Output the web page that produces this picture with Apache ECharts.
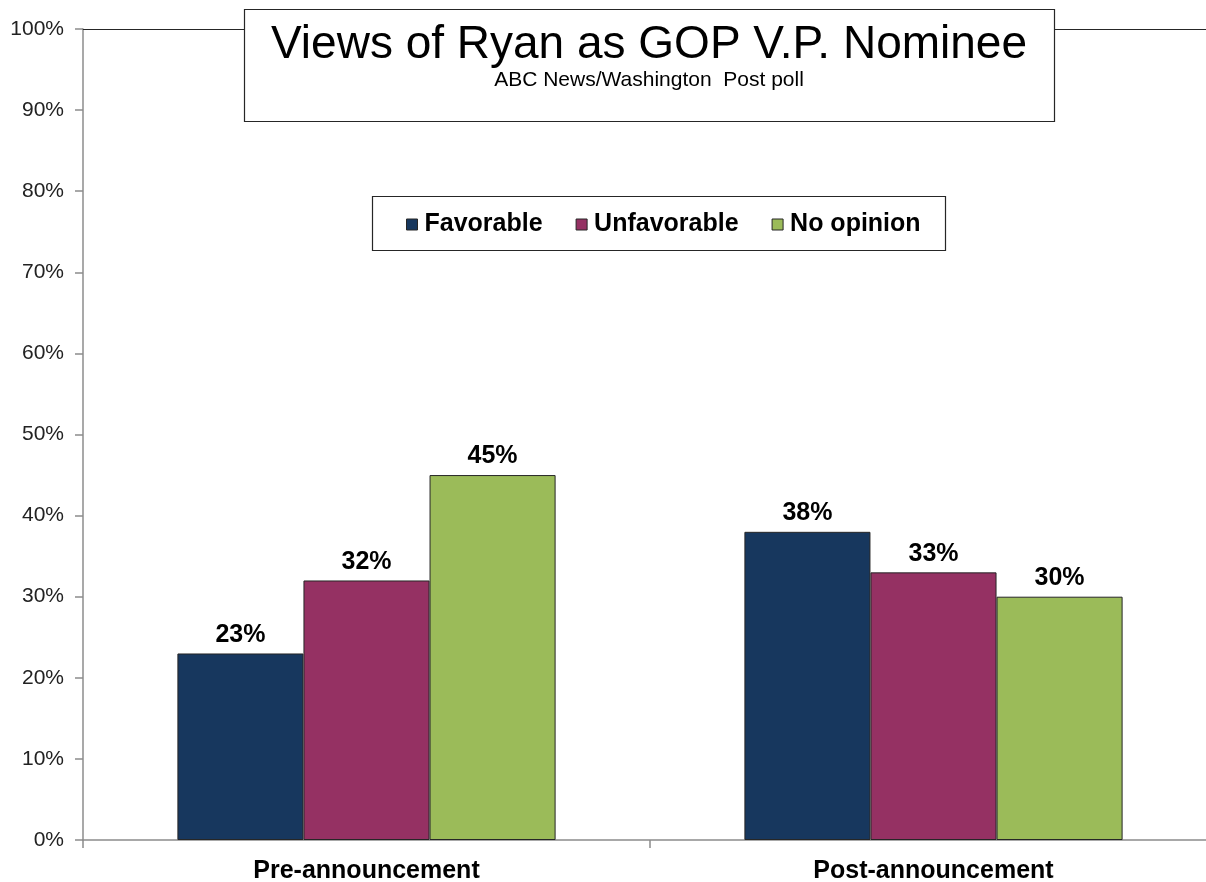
<!DOCTYPE html>
<html>
<head>
<meta charset="utf-8">
<title>Views of Ryan as GOP V.P. Nominee</title>
<script src="https://cdn.jsdelivr.net/npm/echarts@6/dist/echarts.min.js"></script>
<style>
  html, body { margin: 0; padding: 0; background: #fff; overflow: hidden; }
  #chart { width: 1217px; height: 882px; }
</style>
</head>
<body>
<div id="chart"></div>
<script>
const categories = ['Pre-announcement', 'Post-announcement']
const seriesNames = ['Favorable', 'Unfavorable', 'No opinion']
const favorable = [23, 38]
const unfavorable = [32, 33]
const noOpinion = [45, 30]
const yTicks = [0, 10, 20, 30, 40, 50, 60, 70, 80, 90, 100]

const colors = ['#17375e', '#953163', '#9bbb59']
const font = 'Arial, "Liberation Sans", sans-serif'

const chart = echarts.init(document.getElementById('chart'))

function barSeries(name, data, color) {
  return {
    name: name,
    type: 'bar',
    data: data,
    barGap: '0%',
    barCategoryGap: '33.3%',
    itemStyle: { color: color, borderColor: '#262626', borderWidth: 1 },
    label: {
      show: true,
      position: 'top',
      distance: 6,
      formatter: p => p.value + '%',
      fontFamily: font,
      fontWeight: 'bold',
      fontSize: 25,
      color: '#000'
    }
  }
}

const option = {
  animation: false,
  backgroundColor: '#fff',
  grid: { left: 83, top: 29, width: 1134, height: 811, containLabel: false, outerBoundsMode: 'none' },
  title: {
    text: 'Views of Ryan as GOP V.P. Nominee',
    subtext: 'ABC News/Washington  Post poll',
    left: 644,
    textAlign: 'center',
    top: 17,
    itemGap: 2,
    z: 20,
    textStyle: { fontFamily: font, fontSize: 46, fontWeight: 'normal', color: '#000' },
    subtextStyle: { fontFamily: font, fontSize: 21, color: '#000' }
  },
  graphic: [
    {
      type: 'rect',
      z: 10,
      shape: { x: 244.5, y: 9.5, width: 810, height: 112 },
      style: { fill: '#fff', stroke: '#262626', lineWidth: 1.2 }
    },
    {
      type: 'rect',
      z: 10,
      shape: { x: 372.5, y: 196.5, width: 573, height: 54 },
      style: { fill: '#fff', stroke: '#262626', lineWidth: 1.2 }
    }
  ],
  legend: {
    data: seriesNames,
    left: 401,
    top: 207,
    z: 20,
    itemWidth: 11,
    itemHeight: 11,
    itemGap: 33,
    icon: 'rect',
    itemStyle: { borderColor: '#262626', borderWidth: 1 },
    textStyle: { fontFamily: font, fontWeight: 'bold', fontSize: 25, color: '#000', padding: [0, 0, 0, 2] }
  },
  xAxis: [
    {
      type: 'category',
      data: categories,
      axisLine: { lineStyle: { color: '#8c8c8c', width: 1.5 } },
      axisTick: { show: true, length: 8, inside: false, lineStyle: { color: '#8c8c8c', width: 1.5 } },
      axisLabel: { fontFamily: font, fontWeight: 'bold', fontSize: 25, color: '#000', margin: 19 }
    },
    {
      type: 'category',
      data: categories,
      position: 'top',
      axisLine: { show: true, lineStyle: { color: '#262626', width: 1.2 } },
      axisTick: { show: false },
      axisLabel: { show: false }
    }
  ],
  yAxis: {
    type: 'value',
    min: yTicks[0],
    max: yTicks[yTicks.length - 1],
    interval: 10,
    axisLine: { show: true, lineStyle: { color: '#8c8c8c', width: 1.5 } },
    axisTick: { show: true, length: 8, lineStyle: { color: '#8c8c8c', width: 1.5 } },
    splitLine: { show: false },
    axisLabel: { formatter: '{value}%', fontFamily: font, fontSize: 21, color: '#222', margin: 19 }
  },
  series: [
    barSeries(seriesNames[0], favorable, colors[0]),
    barSeries(seriesNames[1], unfavorable, colors[1]),
    barSeries(seriesNames[2], noOpinion, colors[2])
  ]
}

chart.setOption(option)
</script>
</body>
</html>
